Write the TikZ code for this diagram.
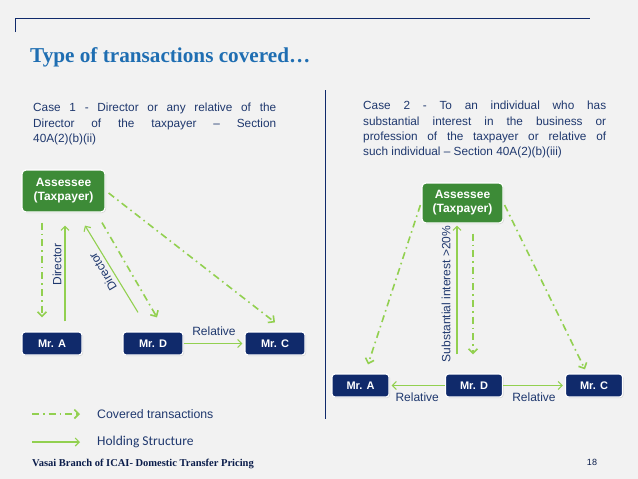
\documentclass[tikz,border=0pt]{standalone}
\usepackage{fontspec}
\setmainfont{Liberation Serif}
\setsansfont{Liberation Sans}
\newfontfamily\legendfont{Carlito}
\usetikzlibrary{positioning, calc, arrows.meta, shadows}
\definecolor{slideBlue}{RGB}{31, 110, 178}
\definecolor{navyBox}{RGB}{16, 42, 107}
\definecolor{greenBox}{RGB}{61, 139, 55}
\definecolor{lineGreen}{RGB}{146, 208, 80}
\definecolor{textBlue}{RGB}{31, 56, 110}
\definecolor{slideBg}{RGB}{242, 242, 242}

\begin{document}
\hyphenpenalty=10000
\exhyphenpenalty=10000
\emergencystretch=3em
\begin{tikzpicture}[
    x=1pt, y=-1pt,
    assessee/.style={rectangle, draw=white, fill=greenBox, line width=1.2pt,
                     rounded corners=4pt, minimum width=83pt, minimum height=42pt,
                     inner sep=0pt, align=center, text=white,
                     font=\sffamily\bfseries\fontsize{12}{14}\selectfont,
                     drop shadow={opacity=0.25, shadow xshift=1pt, shadow yshift=-1pt}},
    person/.style={rectangle, draw=white, fill=navyBox, line width=1.2pt,
                   rounded corners=3pt, minimum width=60pt, minimum height=23pt,
                   inner sep=0pt, text=white,
                   font=\sffamily\bfseries\fontsize{11}{13}\selectfont,
                   drop shadow={opacity=0.25, shadow xshift=1pt, shadow yshift=-1pt}},
    covered/.style={draw=lineGreen, line width=1.6pt,
                    dash pattern=on 7pt off 4pt on 1.6pt off 4pt,
                    -{Straight Barb[length=4.5pt, width=9pt]}},
    holding/.style={draw=lineGreen, line width=1.1pt,
                    -{Straight Barb[length=4pt, width=8pt]}},
    lbl/.style={text=textBlue, inner sep=0pt,
                font=\sffamily\fontsize{12}{14}\selectfont},
    casetext/.style={text=textBlue, text width=243pt, align=justify, inner sep=0pt,
                     anchor=north west, font=\sffamily\fontsize{11.8}{15.3}\selectfont}
  ]
    % slide frame
    \fill[slideBg] (0,0) rectangle (638,479);
    \useasboundingbox (0,0) rectangle (638,479);
    \draw[navyBox, line width=0.9pt] (15,32) -- (15,18) -- (590,18);
    \node[anchor=base west, inner sep=0pt, text=slideBlue,
          font=\bfseries\fontsize{21.2}{25}\selectfont] (TITLE) at (30,62)
      {Type of transactions covered\ldots};
    \draw[navyBox, line width=0.9pt] (325,90) -- (325,419);

    % case 1
    \node[casetext] (CASEA) at (33,103)
      {Case 1 - Director or any relative of the\linebreak Director of the taxpayer -- Section\linebreak 40A(2)(b)(ii)};
    \node[assessee] (ASL) at (63.5,191) {Assessee\\(Taxpayer)};
    \node[person] (MAL) at (52,343.5) {Mr. A};
    \node[person] (MDL) at (153,343.5) {Mr. D};
    \node[person] (MCL) at (275,343.5) {Mr. C};

    \draw[covered] ([xshift=-21.5pt, yshift=-10pt]ASL.south) -- ([xshift=-10pt, yshift=14pt]MAL.north);
    \draw[holding] ([xshift=13pt, yshift=10pt]MAL.north) -- ([xshift=1.5pt, yshift=-13pt]ASL.south)
      node[midway, lbl, rotate=90, anchor=south, xshift=9pt, yshift=3pt] {Director};
    \draw[holding] ([xshift=-15pt, yshift=19pt]MDL.north) -- ([xshift=21.5pt, yshift=-13pt]ASL.south)
      node[midway, lbl, rotate=121, anchor=south, xshift=2pt, yshift=4pt] {Director};
    \draw[covered] ([xshift=38.5pt, yshift=-10pt]ASL.south) -- ([xshift=4pt, yshift=14pt]MDL.north);
    \draw[covered] ([xshift=3pt, yshift=-2pt]ASL.east) -- ([yshift=9pt]MCL.north);
    \draw[holding, shorten >=2pt] (MDL.east) -- (MCL.west)
      node[midway, lbl, above=7pt] {Relative};

    % case 2
    \node[casetext] (CASEB) at (363,101)
      {Case 2 - To an individual who has\linebreak substantial interest in the business or\linebreak profession of the taxpayer or relative of\linebreak such individual -- Section 40A(2)(b)(iii)};
    \node[assessee, minimum width=81pt, minimum height=40pt] (ASR) at (462.5,203) {Assessee\\(Taxpayer)};
    \node[person, minimum width=57pt] (MAR) at (360.5,385.5) {Mr. A};
    \node[person, minimum width=57pt] (MDR) at (474,385.5) {Mr. D};
    \node[person, minimum width=57pt] (MCR) at (594,385.5) {Mr. C};

    \draw[holding] ([xshift=-17pt, yshift=19pt]MDR.north) -- ([xshift=-5.5pt, yshift=-2pt]ASR.south)
      node[midway, lbl, rotate=90, anchor=south, xshift=-4pt, yshift=6pt] {Substantial interest >20\%};
    \draw[covered] ([xshift=10.5pt, yshift=-10pt]ASR.south) -- ([xshift=-1pt, yshift=19pt]MDR.north);
    \draw[covered] ([xshift=-1pt, yshift=-2pt]ASR.west) -- ([xshift=7.5pt, yshift=9pt]MAR.north);
    \draw[covered] ([xshift=1pt, yshift=-2pt]ASR.east) -- ([xshift=-9pt, yshift=4pt]MCR.north);
    \draw[holding, shorten >=2pt] (MDR.west) -- (MAR.east)
      node[midway, lbl, below=7pt] {Relative};
    \draw[holding, shorten >=2pt] (MDR.east) -- (MCR.west)
      node[midway, lbl, below=7pt] {Relative};

    % legend
    \coordinate (LCA) at (32,414);
    \coordinate (LCB) at (80,414);
    \coordinate (LHA) at (32,442);
    \coordinate (LHB) at (80,442);
    \draw[covered] (LCA) -- (LCB);
    \draw[holding] (LHA) -- (LHB);
    \node[anchor=west, inner sep=0pt, text=textBlue,
          font=\sffamily\fontsize{12.3}{14}\selectfont, right=17pt of LCB] (LEGA) {Covered transactions};
    \node[anchor=west, inner sep=0pt, text=textBlue,
          font=\legendfont\fontsize{13.5}{15}\selectfont, right=17pt of LHB] (LEGB) {Holding Structure};

    % footer
    \node[anchor=base west, inner sep=0pt, text=navyBox!70!black,
          font=\bfseries\fontsize{10.5}{12}\selectfont] (FOOT) at (32,466)
      {Vasai Branch of ICAI- Domestic Transfer Pricing};
    \node[anchor=base, inner sep=0pt, text=navyBox!70!black,
          font=\sffamily\fontsize{9}{11}\selectfont] (PAGE) at (592,465) {18};
  \end{tikzpicture}
\end{document}
